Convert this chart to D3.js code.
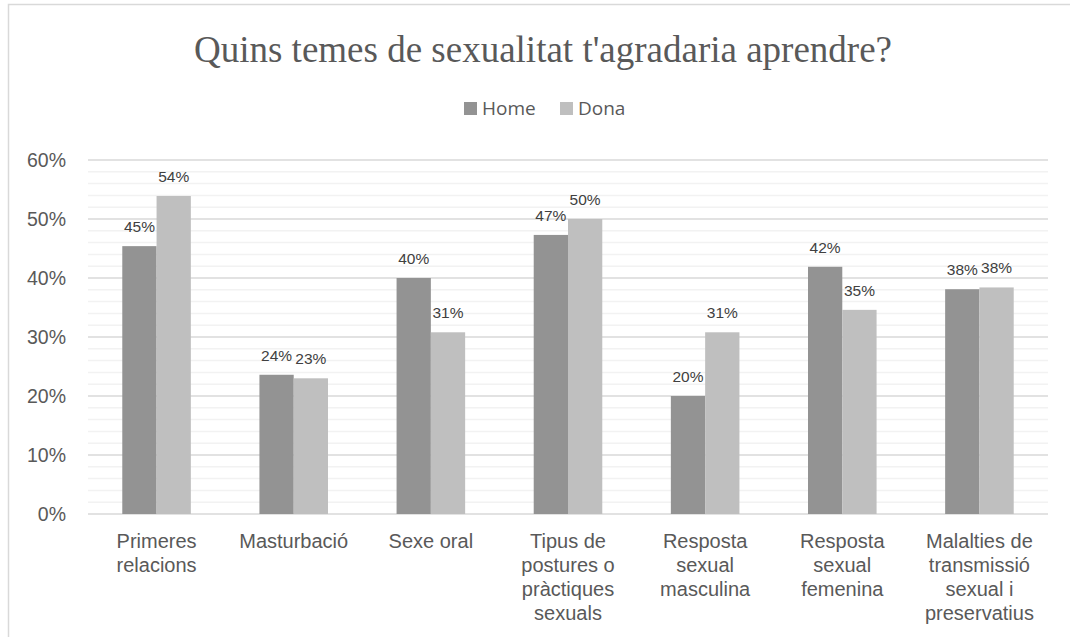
<!DOCTYPE html>
<html>
<head>
<meta charset="utf-8">
<script src="https://cdn.jsdelivr.net/npm/d3@7"></script>
<style>
    body { margin: 0; background: white; }
    svg { display: block; }
</style>
</head>
<body>
<div id="chart"></div>
<script>
// chart data
const categories = [
    "Primeres relacions",
    "Masturbació",
    "Sexe oral",
    "Tipus de postures o pràctiques sexuals",
    "Resposta sexual masculina",
    "Resposta sexual femenina",
    "Malalties de transmissió sexual i preservatius"
];
const categoryLines = [
    ["Primeres", "relacions"],
    ["Masturbació"],
    ["Sexe oral"],
    ["Tipus de", "postures o", "pràctiques", "sexuals"],
    ["Resposta", "sexual", "masculina"],
    ["Resposta", "sexual", "femenina"],
    ["Malalties de", "transmissió", "sexual i", "preservatius"]
];
const seriesNames = ["Home", "Dona"];
const homeValues = [0.454, 0.236, 0.400, 0.473, 0.200, 0.419, 0.381];
const donaValues = [0.539, 0.230, 0.308, 0.500, 0.308, 0.346, 0.384];
const yTicks = [0, 0.1, 0.2, 0.3, 0.4, 0.5, 0.6];

const width = 1070, height = 637;
const margin = { top: 160, right: 22, bottom: 123, left: 88 };
const innerWidth = width - margin.left - margin.right;
const innerHeight = height - margin.top - margin.bottom;
const colors = { Home: "#939393", Dona: "#bfbfbf" };
const textColor = "#595959";

const svg = d3.select("#chart")
    .append("svg")
    .attr("width", width)
    .attr("height", height);

// outer chart border: only the left and top edges are in view
svg.append("path")
    .attr("d", `M8.5,${height} L8.5,4.5 L${width},4.5`)
    .attr("fill", "none")
    .attr("stroke", "#d9d9d9")
    .attr("stroke-width", 1.5);

// title
svg.append("text")
    .attr("x", 543)
    .attr("y", 62)
    .attr("text-anchor", "middle")
    .attr("font-family", "'Liberation Serif', 'Times New Roman', serif")
    .attr("font-size", "37px")
    .attr("fill", textColor)
    .text("Quins temes de sexualitat t'agradaria aprendre?");

// legend
const legendItems = [
    { name: seriesNames[0], x: 464 },
    { name: seriesNames[1], x: 560 }
];
const legend = svg.append("g").attr("class", "legend");
legendItems.forEach(item => {
    legend.append("rect")
        .attr("x", item.x)
        .attr("y", 102)
        .attr("width", 13)
        .attr("height", 13)
        .attr("fill", colors[item.name]);
    legend.append("text")
        .attr("x", item.x + 18)
        .attr("y", 115)
        .attr("font-family", "'Open Sans', sans-serif")
        .attr("font-size", "19px")
        .attr("fill", textColor)
        .text(item.name);
});

const g = svg.append("g")
    .attr("transform", `translate(${margin.left},${margin.top})`);

const x0 = d3.scaleBand()
    .domain(categories)
    .range([0, innerWidth])
    .paddingInner(0)
    .paddingOuter(0);

const x1 = d3.scaleBand()
    .domain(seriesNames)
    .range([x0.bandwidth() * 0.25, x0.bandwidth() * 0.75]);

const y = d3.scaleLinear()
    .domain([0, 0.6])
    .range([innerHeight, 0]);

// minor gridlines every 2%
const minorTicks = d3.range(0.02, 0.6, 0.02).filter(v => Math.abs(Math.round(v * 10) - v * 10) > 0.01);
g.selectAll(".minor")
    .data(minorTicks)
    .enter()
    .append("line")
    .attr("class", "minor")
    .attr("x1", 0)
    .attr("x2", innerWidth)
    .attr("y1", d => y(d))
    .attr("y2", d => y(d))
    .attr("stroke", "#f2f2f2")
    .attr("stroke-width", 1.5);

// major gridlines
g.selectAll(".major")
    .data(yTicks)
    .enter()
    .append("line")
    .attr("class", "major")
    .attr("x1", 0)
    .attr("x2", innerWidth)
    .attr("y1", d => y(d))
    .attr("y2", d => y(d))
    .attr("stroke", "#d9d9d9")
    .attr("stroke-width", 1.5);

// y axis labels
const yAxis = d3.axisLeft(y)
    .tickValues(yTicks)
    .tickFormat(d3.format(".0%"))
    .tickSize(0)
    .tickPadding(22);

g.append("g")
    .attr("class", "y-axis")
    .call(yAxis)
    .call(ax => ax.select(".domain").remove())
    .selectAll("text")
    .attr("font-family", "'Liberation Sans', Arial, sans-serif")
    .attr("font-size", "19.5px")
    .attr("fill", textColor);

// bars
const groups = g.selectAll(".cat")
    .data(categories)
    .enter()
    .append("g")
    .attr("class", "cat")
    .attr("transform", d => `translate(${x0(d)},0)`);

const barData = (d, i) => [
    { key: "Home", value: homeValues[i] },
    { key: "Dona", value: donaValues[i] }
];

groups.selectAll("rect")
    .data(barData)
    .enter()
    .append("rect")
    .attr("x", d => x1(d.key))
    .attr("width", x1.bandwidth())
    .attr("y", d => y(d.value))
    .attr("height", d => innerHeight - y(d.value))
    .attr("fill", d => colors[d.key]);

// data labels
groups.selectAll(".label")
    .data(barData)
    .enter()
    .append("text")
    .attr("class", "label")
    .attr("x", d => x1(d.key) + x1.bandwidth() / 2)
    .attr("y", d => y(d.value) - 14)
    .attr("text-anchor", "middle")
    .attr("font-family", "'Liberation Sans', Arial, sans-serif")
    .attr("font-size", "15.5px")
    .attr("fill", "#404040")
    .text(d => d3.format(".0%")(d.value));

// category labels
groups.append("text")
    .attr("text-anchor", "middle")
    .attr("font-family", "'Liberation Sans', Arial, sans-serif")
    .attr("font-size", "20px")
    .attr("fill", textColor)
    .selectAll("tspan")
    .data((d, i) => categoryLines[i])
    .enter()
    .append("tspan")
    .attr("x", x0.bandwidth() / 2)
    .attr("y", (d, i) => innerHeight + 34 + i * 24)
    .text(d => d);
</script>
</body>
</html>
